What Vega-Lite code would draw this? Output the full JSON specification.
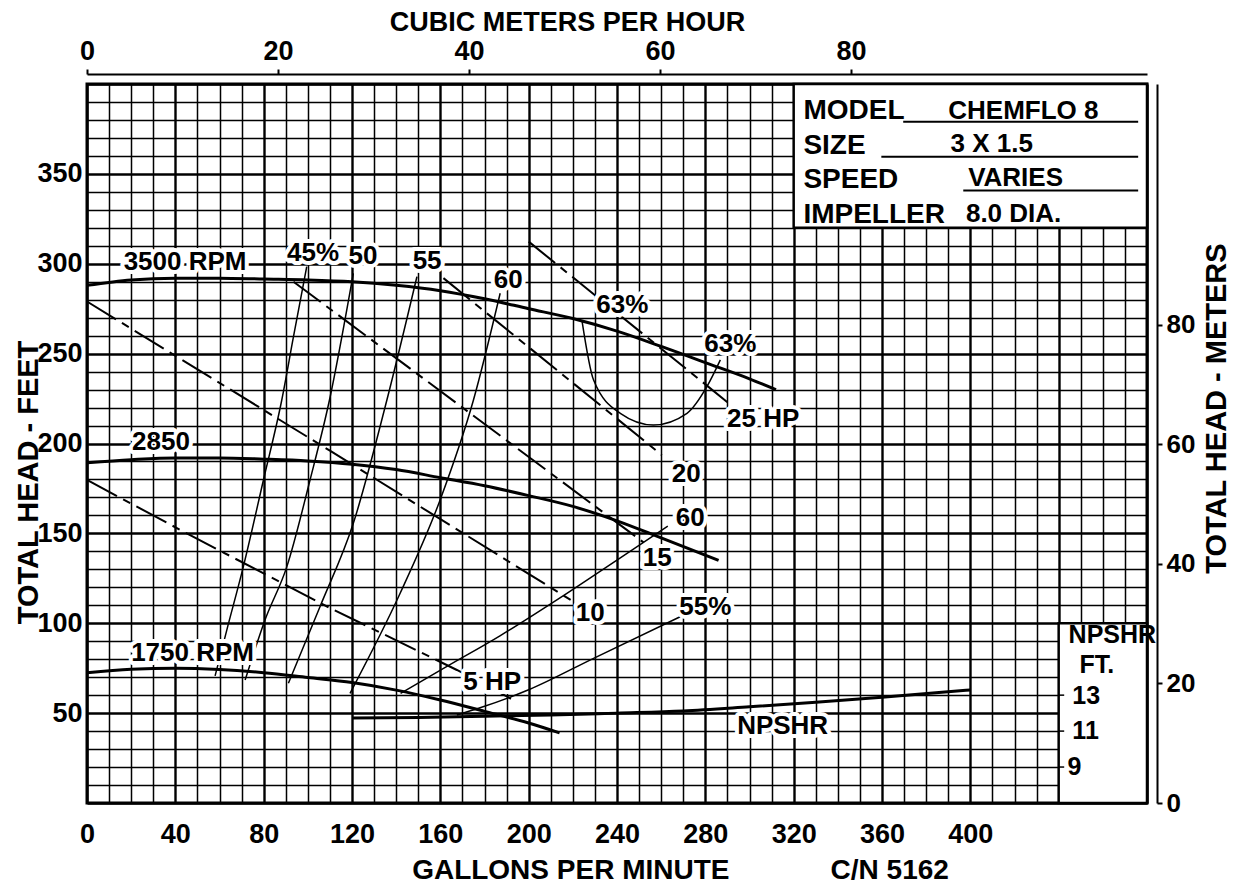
{
  "$schema": "https://vega.github.io/schema/vega-lite/v6.json",
  "width": 1060,
  "height": 719,
  "autosize": {"type": "none"},
  "padding": {"left": 87, "top": 84, "right": 91, "bottom": 81},
  "background": "white",
  "config": {
    "view": {"stroke": "black", "strokeWidth": 3},
    "font": "Liberation Sans",
    "text": {"font": "Liberation Sans", "fontWeight": "bold", "color": "black"},
    "axis": {
      "labelFont": "Liberation Sans", "labelFontWeight": "bold", "labelColor": "black",
      "titleFont": "Liberation Sans", "titleFontWeight": "bold", "titleColor": "black",
      "labelFlush": false, "labelOverlap": false
    }
  },
  "datasets": {
    "head": [
      {"s": "3500", "q": 0, "h": 288}, {"s": "3500", "q": 20, "h": 291}, {"s": "3500", "q": 40, "h": 292}, {"s": "3500", "q": 60, "h": 292}, {"s": "3500", "q": 80, "h": 291.5}, {"s": "3500", "q": 100, "h": 291}, {"s": "3500", "q": 120, "h": 290}, {"s": "3500", "q": 140, "h": 288}, {"s": "3500", "q": 160, "h": 285}, {"s": "3500", "q": 180, "h": 280.5}, {"s": "3500", "q": 200, "h": 275}, {"s": "3500", "q": 220, "h": 269.5}, {"s": "3500", "q": 240, "h": 262.5}, {"s": "3500", "q": 260, "h": 254}, {"s": "3500", "q": 280, "h": 245}, {"s": "3500", "q": 300, "h": 236}, {"s": "3500", "q": 312, "h": 230},
      {"s": "2850", "q": 0, "h": 189.3}, {"s": "2850", "q": 20, "h": 191}, {"s": "2850", "q": 40, "h": 192}, {"s": "2850", "q": 60, "h": 192}, {"s": "2850", "q": 80, "h": 191.3}, {"s": "2850", "q": 100, "h": 190.3}, {"s": "2850", "q": 120, "h": 188.5}, {"s": "2850", "q": 140, "h": 185.5}, {"s": "2850", "q": 160, "h": 181}, {"s": "2850", "q": 180, "h": 176.5}, {"s": "2850", "q": 200, "h": 171}, {"s": "2850", "q": 220, "h": 165}, {"s": "2850", "q": 240, "h": 157}, {"s": "2850", "q": 260, "h": 147.5}, {"s": "2850", "q": 286, "h": 135},
      {"s": "1750", "q": 0, "h": 72.5}, {"s": "1750", "q": 20, "h": 74.4}, {"s": "1750", "q": 40, "h": 75}, {"s": "1750", "q": 60, "h": 74.3}, {"s": "1750", "q": 80, "h": 72.5}, {"s": "1750", "q": 100, "h": 69.8}, {"s": "1750", "q": 120, "h": 67}, {"s": "1750", "q": 140, "h": 62.8}, {"s": "1750", "q": 160, "h": 57.3}, {"s": "1750", "q": 180, "h": 51}, {"s": "1750", "q": 200, "h": 44.5}, {"s": "1750", "q": 214, "h": 39}
    ],
    "npshr": [
      {"q": 120, "h": 47.3}, {"q": 150, "h": 47.6}, {"q": 180, "h": 48.3}, {"q": 210, "h": 48.9}, {"q": 240, "h": 50}, {"q": 270, "h": 51.2}, {"q": 300, "h": 53.5}, {"q": 330, "h": 56}, {"q": 360, "h": 58.8}, {"q": 400, "h": 62.9}
    ],
    "eff": [
      {"s": "45", "q": 58, "h": 70.7}, {"s": "45", "q": 63.3, "h": 96.2}, {"s": "45", "q": 70.8, "h": 131.5}, {"s": "45", "q": 79.9, "h": 179.7}, {"s": "45", "q": 88.2, "h": 224.2}, {"s": "45", "q": 93.5, "h": 259.4}, {"s": "45", "q": 99.5, "h": 298.4},
      {"s": "50", "q": 71.6, "h": 68.4}, {"s": "50", "q": 80.6, "h": 101.8}, {"s": "50", "q": 90.5, "h": 131.5}, {"s": "50", "q": 101, "h": 179.7}, {"s": "50", "q": 109.8, "h": 224.2}, {"s": "50", "q": 120.6, "h": 294.7},
      {"s": "55", "q": 91.2, "h": 66.6}, {"s": "55", "q": 105.5, "h": 109.2}, {"s": "55", "q": 120.6, "h": 155.6}, {"s": "55", "q": 135.8, "h": 224.2}, {"s": "55", "q": 149.4, "h": 292.8},
      {"s": "60", "q": 119.1, "h": 61}, {"s": "60", "q": 141.8, "h": 116.7}, {"s": "60", "q": 159.9, "h": 168.6}, {"s": "60", "q": 175, "h": 224.2}, {"s": "60", "q": 187.1, "h": 283.6},
      {"s": "60R", "q": 142, "h": 61}, {"s": "60R", "q": 163, "h": 76}, {"s": "60R", "q": 187, "h": 93}, {"s": "60R", "q": 214, "h": 114}, {"s": "60R", "q": 241, "h": 136}, {"s": "60R", "q": 263, "h": 154},
      {"s": "55R", "q": 167.5, "h": 49}, {"s": "55R", "q": 178, "h": 53}, {"s": "55R", "q": 200, "h": 63}, {"s": "55R", "q": 229.4, "h": 80.5}, {"s": "55R", "q": 268.6, "h": 103.6},
      {"s": "63", "q": 224.1, "h": 268.7}, {"s": "63", "q": 229.4, "h": 235.3}, {"s": "63", "q": 241.5, "h": 216.8}, {"s": "63", "q": 256.5, "h": 210.3}, {"s": "63", "q": 271.7, "h": 216.8}, {"s": "63", "q": 280.7, "h": 231.6}, {"s": "63", "q": 286.8, "h": 246.5}
    ],
    "hp": [
      {"s": "5", "q": 0, "h": 179.7}, {"s": "5", "q": 46.7, "h": 149}, {"s": "5", "q": 110, "h": 108.5}, {"s": "5", "q": 167.5, "h": 74}, {"s": "5", "q": 192, "h": 58},
      {"s": "10", "q": 0, "h": 279}, {"s": "10", "q": 110, "h": 196}, {"s": "10", "q": 219, "h": 113},
      {"s": "15", "q": 93.5, "h": 290}, {"s": "15", "q": 252, "h": 145},
      {"s": "20", "q": 161.4, "h": 292}, {"s": "20", "q": 260.3, "h": 193.6},
      {"s": "25", "q": 200, "h": 312.3}, {"s": "25", "q": 290, "h": 223}
    ],
    "labels": [
      {"q": 44.4, "h": 300.7, "t": "3500 RPM"},
      {"q": 102.4, "h": 306, "t": "45%"},
      {"q": 125, "h": 304.3, "t": "50"},
      {"q": 154, "h": 301.5, "t": "55"},
      {"q": 190.7, "h": 291, "t": "60"},
      {"q": 242.4, "h": 277, "t": "63%"},
      {"q": 291.3, "h": 255.4, "t": "63%"},
      {"q": 306.2, "h": 213.6, "t": "25 HP"},
      {"q": 271.3, "h": 183, "t": "20"},
      {"q": 273.2, "h": 158.8, "t": "60"},
      {"q": 258.2, "h": 136.3, "t": "15"},
      {"q": 227.9, "h": 105.7, "t": "10"},
      {"q": 280, "h": 108.8, "t": "55%"},
      {"q": 183.5, "h": 67.3, "t": "5 HP"},
      {"q": 315, "h": 42.8, "t": "NPSHR"},
      {"q": 33.5, "h": 200.6, "t": "2850"},
      {"q": 47.8, "h": 83.7, "t": "1750 RPM"}
    ],
    "boxes": [
      {"q": 320, "q2": 480, "h": 320, "h2": 400},
      {"q": 440, "q2": 480, "h": 0, "h2": 100}
    ],
    "underlines": [
      {"q": 369.6, "q2": 476, "h": 379},
      {"q": 359.7, "q2": 476, "h": 359.5},
      {"q": 396.8, "q2": 476, "h": 340.7}
    ],
    "nticks": [
      {"q": 440, "q2": 442.5, "h": 20},
      {"q": 440, "q2": 442.5, "h": 40},
      {"q": 440, "q2": 442.5, "h": 60}
    ],
    "boxlabels": [
      {"q": 324.4, "h": 380.5, "t": "MODEL"},
      {"q": 324.4, "h": 361.3, "t": "SIZE"},
      {"q": 324.4, "h": 342.2, "t": "SPEED"},
      {"q": 324.4, "h": 322.5, "t": "IMPELLER"}
    ],
    "boxvalues": [
      {"q": 390, "h": 380.5, "t": "CHEMFLO 8"},
      {"q": 391, "h": 361.9, "t": "3 X 1.5"},
      {"q": 399, "h": 343, "t": "VARIES"},
      {"q": 398, "h": 323, "t": "8.0 DIA."}
    ],
    "npsbox": [
      {"q": 444.5, "h": 93.5, "t": "NPSHR"},
      {"q": 449.4, "h": 76.5, "t": "FT."},
      {"q": 446.2, "h": 59.5, "t": "13"},
      {"q": 446.2, "h": 40, "t": "11"},
      {"q": 444, "h": 20, "t": "9"}
    ],
    "metric": [{"m3h": 0, "m": 0}]
  },
  "layer": [
    {
      "encoding": {
        "x": {
          "field": "q", "type": "quantitative",
          "scale": {"domain": [0, 480], "nice": false, "zero": true},
          "axis": {
            "orient": "bottom",
            "values": [0,10,20,30,40,50,60,70,80,90,100,110,120,130,140,150,160,170,180,190,200,210,220,230,240,250,260,270,280,290,300,310,320,330,340,350,360,370,380,390,400,410,420,430,440,450,460,470,480],
            "labelExpr": "datum.value % 40 === 0 && datum.value <= 400 ? datum.label : ''",
            "grid": true, "gridColor": "black", "gridOpacity": 1,
            "gridWidth": {"condition": {"test": "datum.value % 40 === 0", "value": 2.4}, "value": 1.5},
            "ticks": false, "domain": false,
            "labelFontSize": 27, "labelPadding": 18,
            "title": "GALLONS PER MINUTE\u00a0\u00a0\u00a0\u00a0\u00a0\u00a0\u00a0\u00a0\u00a0\u00a0\u00a0\u00a0\u00a0C/N 5162",
            "titleFontSize": 28, "titleX": 593, "titleY": 75, "titleAlign": "center", "titleBaseline": "alphabetic", "titleAngle": 0
          }
        },
        "y": {
          "field": "h", "type": "quantitative",
          "scale": {"domain": [0, 400], "nice": false, "zero": true},
          "axis": {
            "orient": "left",
            "values": [0,10,20,30,40,50,60,70,80,90,100,110,120,130,140,150,160,170,180,190,200,210,220,230,240,250,260,270,280,290,300,310,320,330,340,350,360,370,380,390,400],
            "labelExpr": "datum.value % 50 === 0 && datum.value > 0 && datum.value < 400 ? datum.label : ''",
            "grid": true, "gridColor": "black", "gridOpacity": 1,
            "gridWidth": {"condition": {"test": "datum.value % 50 === 0", "value": 2.6}, "value": 1.5},
            "ticks": false, "domain": false,
            "labelFontSize": 27, "labelPadding": 5,
            "title": "TOTAL HEAD - FEET",
            "titleFontSize": 29, "titleX": -59, "titleY": 398, "titleAlign": "center", "titleBaseline": "middle", "titleAngle": -90
          }
        }
      },
      "layer": [
        {
          "data": {"name": "hp"},
          "mark": {"type": "line", "color": "black", "strokeWidth": 2, "strokeDash": [34, 7, 8, 7]},
          "encoding": {"detail": {"field": "s", "type": "nominal"}}
        },
        {
          "data": {"name": "eff"},
          "mark": {"type": "line", "color": "black", "strokeWidth": 1.5, "interpolate": "monotone"},
          "encoding": {"detail": {"field": "s", "type": "nominal"}}
        },
        {
          "data": {"name": "head"},
          "mark": {"type": "line", "color": "black", "strokeWidth": 3, "interpolate": "monotone"},
          "encoding": {"detail": {"field": "s", "type": "nominal"}}
        },
        {
          "data": {"name": "npshr"},
          "mark": {"type": "line", "color": "black", "strokeWidth": 3, "interpolate": "monotone"},
          "encoding": {}
        },
        {
          "data": {"name": "labels"},
          "mark": {"type": "text", "fontSize": 26, "fontWeight": "bold", "align": "center", "baseline": "middle", "fill": "white", "stroke": "white", "strokeWidth": 8, "strokeJoin": "round"},
          "encoding": {"text": {"field": "t", "type": "nominal"}}
        },
        {
          "data": {"name": "labels"},
          "mark": {"type": "text", "fontSize": 26, "fontWeight": "bold", "align": "center", "baseline": "middle", "color": "black"},
          "encoding": {"text": {"field": "t", "type": "nominal"}}
        },
        {
          "data": {"name": "boxes"},
          "mark": {"type": "rect", "fill": "white", "stroke": "black", "strokeWidth": 2.5},
          "encoding": {"x2": {"field": "q2"}, "y2": {"field": "h2"}}
        },
        {
          "data": {"name": "underlines"},
          "mark": {"type": "rule", "color": "black", "strokeWidth": 2},
          "encoding": {"x2": {"field": "q2"}}
        },
        {
          "data": {"name": "nticks"},
          "mark": {"type": "rule", "color": "black", "strokeWidth": 1.5},
          "encoding": {"x2": {"field": "q2"}}
        },
        {
          "data": {"name": "boxlabels"},
          "mark": {"type": "text", "fontSize": 28, "fontWeight": "bold", "align": "left", "baseline": "alphabetic", "color": "black"},
          "encoding": {"text": {"field": "t", "type": "nominal"}}
        },
        {
          "data": {"name": "boxvalues"},
          "mark": {"type": "text", "fontSize": 26, "fontWeight": "bold", "align": "left", "baseline": "alphabetic", "color": "black"},
          "encoding": {"text": {"field": "t", "type": "nominal"}}
        },
        {
          "data": {"name": "npsbox"},
          "mark": {"type": "text", "fontSize": 25, "fontWeight": "bold", "align": "left", "baseline": "middle", "color": "black"},
          "encoding": {"text": {"field": "t", "type": "nominal"}}
        }
      ]
    },
    {
      "data": {"name": "metric"},
      "mark": {"type": "point", "opacity": 0},
      "encoding": {
        "x": {
          "field": "m3h", "type": "quantitative",
          "scale": {"domain": [0, 111], "nice": false, "zero": true},
          "axis": {
            "orient": "top", "offset": 10, "values": [0, 20, 40, 60, 80], "grid": false,
            "domainColor": "black", "domainWidth": 2, "tickColor": "black", "tickWidth": 2, "tickSize": 5,
            "labelFontSize": 27, "labelPadding": 4,
            "title": "CUBIC METERS PER HOUR", "titleFontSize": 27, "titleX": 480, "titleY": -44,
            "titleAlign": "center", "titleBaseline": "alphabetic", "titleAngle": 0
          }
        },
        "y": {
          "field": "m", "type": "quantitative",
          "scale": {"domain": [0, 120.3], "nice": false, "zero": true},
          "axis": {
            "orient": "right", "offset": 10, "values": [0, 20, 40, 60, 80], "grid": false,
            "domainColor": "black", "domainWidth": 2, "tickColor": "black", "tickWidth": 2, "tickSize": 5,
            "labelFontSize": 26, "labelPadding": 4,
            "title": "TOTAL HEAD - METERS", "titleFontSize": 29, "titleX": 59, "titleY": 324,
            "titleAlign": "center", "titleBaseline": "middle", "titleAngle": -90
          }
        }
      }
    }
  ],
  "resolve": {"scale": {"x": "independent", "y": "independent"}}
}
